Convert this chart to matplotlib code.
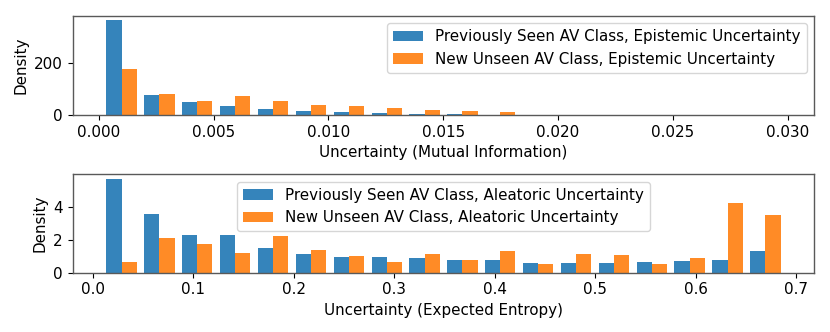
import numpy as np
import matplotlib
matplotlib.use("Agg")
import matplotlib.pyplot as plt

# densidades (18 bins em cada painel)
mi_range = (0.00016, 0.02986)
mi_seen = [365, 76, 49, 35, 23, 17, 12, 7, 4, 2, 1, 0.5, 0, 0, 0, 0, 0, 0]
mi_new = [179, 82, 53, 72, 53, 37, 33, 28, 18, 14, 11, 0, 0, 1, 0, 0, 0, 0]

ent_range = (0.0097, 0.6884)
ent_seen = [5.70, 3.55, 2.29, 2.27, 1.48, 1.14, 0.95, 0.93, 0.89,
            0.77, 0.77, 0.61, 0.57, 0.57, 0.65, 0.69, 0.75, 1.32]
ent_new = [0.63, 2.09, 1.72, 1.22, 2.23, 1.36, 0.99, 0.63, 1.14,
           0.77, 1.30, 0.55, 1.14, 1.08, 0.55, 0.91, 4.20, 3.47]

labels_mi = ["Previously Seen AV Class, Epistemic Uncertainty",
             "New Unseen AV Class, Epistemic Uncertainty"]
labels_ent = ["Previously Seen AV Class, Aleatoric Uncertainty",
              "New Unseen AV Class, Aleatoric Uncertainty"]

plt.rcParams["font.size"] = 10.9
plt.rcParams["axes.edgecolor"] = "0.35"
plt.rcParams["axes.linewidth"] = 1.0


def draw(ax, rng, seen, new, labels):
    edges = np.linspace(rng[0], rng[1], len(seen) + 1)
    centers = (edges[:-1] + edges[1:]) / 2
    ax.hist([centers, centers], bins=edges, weights=[seen, new],
            color=["tab:blue", "tab:orange"], alpha=0.9, label=labels)
    ax.set_ylabel("Density")


fig = plt.figure(figsize=(8.3, 3.32), dpi=100)
ax1 = fig.add_axes([0.0876, 0.6536, 0.981 - 0.0876, 0.9527 - 0.6536])
ax2 = fig.add_axes([0.0876, 0.1786, 0.981 - 0.0876, 0.476 - 0.1786])

draw(ax1, mi_range, mi_seen, mi_new, labels_mi)
ax1.set_xlabel("Uncertainty (Mutual Information)")
ax1.set_xticks([0.0, 0.005, 0.01, 0.015, 0.02, 0.025, 0.03])
ax1.set_xticklabels(["0.000", "0.005", "0.010", "0.015", "0.020", "0.025", "0.030"])
ax1.set_yticks([0, 200])
ax1.legend(loc="upper right")

draw(ax2, ent_range, ent_seen, ent_new, labels_ent)
ax2.set_xlabel("Uncertainty (Expected Entropy)")
ax2.set_yticks([0, 2, 4])
ax2.legend(loc="upper center")

fig.savefig("out.png", dpi=100)
